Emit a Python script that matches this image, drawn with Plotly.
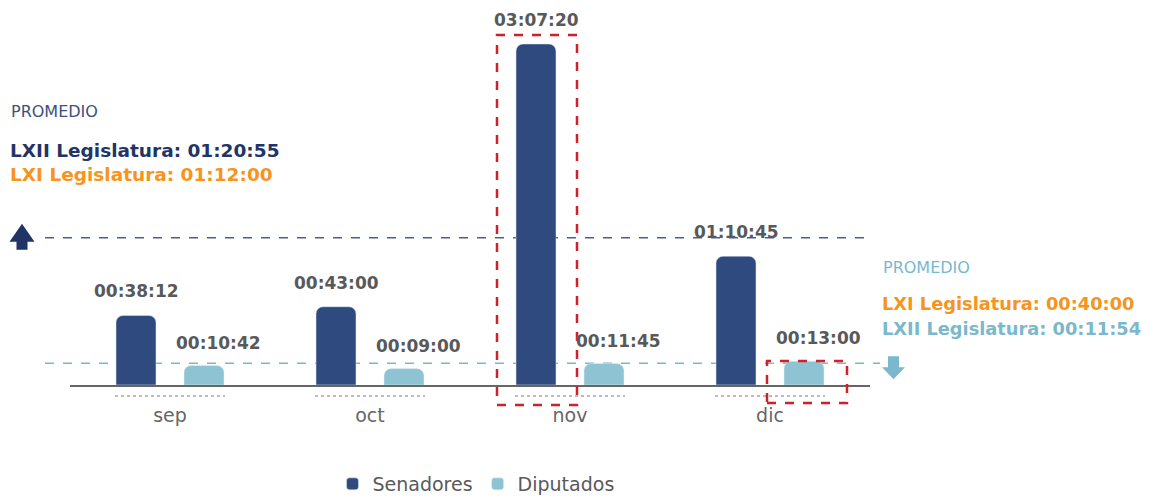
import plotly.graph_objects as go

# ---------------- data ----------------
months = ["sep", "oct", "nov", "dic"]
senadores = ["00:38:12", "00:43:00", "03:07:20", "01:10:45"]
diputados = ["00:10:42", "00:09:00", "00:11:45", "00:13:00"]
prom_senadores_lxii = "01:20:55"
prom_senadores_lxi = "01:12:00"
prom_diputados_lxi = "00:40:00"
prom_diputados_lxii = "00:11:54"


def to_min(t):
    h, m, s = (int(v) for v in t.split(":"))
    return h * 60 + m + s / 60


sen_min = [to_min(t) for t in senadores]
dip_min = [to_min(t) for t in diputados]

# ---------------- layout helpers ----------------
# the page body has an 8px margin; reference pixel coordinates are converted
OFF = 8
FW, FH = 1155 - OFF, 499 - OFF
PL, PR, PT, PB = 70, 870, 20, 385          # plot area in reference pixels
ML, MR, MT, MB = PL - OFF, FW - (PR - OFF), PT - OFF, FH - (PB - OFF)


def px(x):
    return (x - PL) / (PR - PL)


def py(y):
    return (PB - y) / (PB - PT)


NAVY = "#1f3565"
SEN = "#2f4a7f"
DIP = "#8ec3d3"
LIGHT = "#7ab8cc"
ORANGE = "#f7941d"
GRAY = "#58595b"
RED = "#d0202a"
FONT = "DejaVu Sans"

fig = go.Figure()
fig.add_trace(go.Bar(
    name="Senadores", x=months, y=sen_min,
    width=0.2, offset=-0.27,
    marker=dict(color=SEN, cornerradius=7),
    hoverinfo="skip",
))
fig.add_trace(go.Bar(
    name="Diputados", x=months, y=dip_min,
    width=0.2, offset=0.07,
    marker=dict(color=DIP, cornerradius=7),
    hoverinfo="skip",
))

ann = []
for m, v, t in zip(months, sen_min, senadores):
    ann.append(dict(x=m, y=v, xref="x", yref="y", text=t, showarrow=False,
                    xshift=-34, yshift=24, yanchor="middle",
                    font=dict(family=FONT, size=17, color=GRAY, weight="bold")))
for m, v, t in zip(months, dip_min, diputados):
    ann.append(dict(x=m, y=v, xref="x", yref="y", text=t, showarrow=False,
                    xshift=48, yshift=23, yanchor="middle",
                    font=dict(family=FONT, size=17, color=GRAY, weight="bold")))

shapes = []
# average lines
shapes.append(dict(type="line", xref="paper", yref="y", x0=px(45), x1=px(873),
                   y0=to_min(prom_senadores_lxii), y1=to_min(prom_senadores_lxii),
                   line=dict(color="#4a5f8c", width=1.5, dash="dash"), layer="below"))
shapes.append(dict(type="line", xref="paper", yref="y", x0=px(45), x1=px(880),
                   y0=to_min(prom_diputados_lxii), y1=to_min(prom_diputados_lxii),
                   line=dict(color=LIGHT, width=1.5, dash="dash"), layer="below"))
# arrows (pixel-sized, anchored to the average lines)
shapes.append(dict(type="path", xref="paper", yref="y", xsizemode="pixel", ysizemode="pixel",
                   xanchor=px(22), yanchor=to_min(prom_senadores_lxii),
                   path="M -12.5 -4 L 0 14 L 12.5 -4 L 5.5 -4 L 5.5 -12 L -5.5 -12 L -5.5 -4 Z",
                   fillcolor=NAVY, line=dict(width=0)))
shapes.append(dict(type="path", xref="paper", yref="y", xsizemode="pixel", ysizemode="pixel",
                   xanchor=px(893.5), yanchor=to_min(prom_diputados_lxii),
                   path="M -11.5 -4 L 0 -16 L 11.5 -4 L 5.5 -4 L 5.5 7 L -5.5 7 L -5.5 -4 Z",
                   fillcolor=LIGHT, line=dict(width=0)))
# dotted underlines per month
for i in range(len(months)):
    shapes.append(dict(type="line", xref="x", yref="paper", x0=i - 0.275, x1=i + 0.275,
                       y0=py(396), y1=py(396), line=dict(color="#777777", width=1, dash="dot")))
# red dashed highlight boxes
shapes.append(dict(type="rect", xref="x", yref="paper", x0=2 - 0.365, x1=2 + 0.035,
                   y0=py(405), y1=py(35), line=dict(color=RED, width=2.5, dash="dash")))
shapes.append(dict(type="rect", xref="x", yref="paper", x0=3 - 0.015, x1=3 + 0.385,
                   y0=py(403), y1=py(361), line=dict(color=RED, width=2.5, dash="dash")))


def note(text, x, y, color, size, bold=False):
    ann.append(dict(text=text, xref="paper", yref="paper", x=px(x), y=py(y),
                    xanchor="left", yanchor="middle", showarrow=False,
                    font=dict(family=FONT, size=size, color=color,
                              weight="bold" if bold else "normal")))


note("PROMEDIO", 9, 112, "#3d5080", 16)
note(f"LXII Legislatura: {prom_senadores_lxii}", 8, 150, NAVY, 18.5, True)
note(f"LXI Legislatura: {prom_senadores_lxi}", 8, 174, ORANGE, 18.5, True)
note("PROMEDIO", 881, 267, LIGHT, 16)
note(f"LXI Legislatura: {prom_diputados_lxi}", 880, 303, ORANGE, 17.8, True)
note(f"LXII Legislatura: {prom_diputados_lxii}", 880, 328, LIGHT, 17.8, True)

ymax = max(sen_min) * (PB - PT) / (PB - 44)

fig.update_layout(
    width=FW, height=FH,
    margin=dict(l=ML, r=MR, t=MT, b=MB, autoexpand=False),
    plot_bgcolor="white", paper_bgcolor="white",
    barmode="group",
    showlegend=True,
    legend=dict(orientation="h", x=px(476), xanchor="center", y=py(484), yanchor="middle",
                font=dict(family=FONT, size=19, color=GRAY), itemwidth=30,
                traceorder="normal"),
    xaxis=dict(showline=True, linecolor="#666666", linewidth=2, showgrid=False,
               ticks="", ticklabelstandoff=12,
               tickfont=dict(family=FONT, size=19, color="#666666")),
    yaxis=dict(visible=False, range=[0, ymax]),
    shapes=shapes,
    annotations=ann,
)

fig.write_html("out.html")
